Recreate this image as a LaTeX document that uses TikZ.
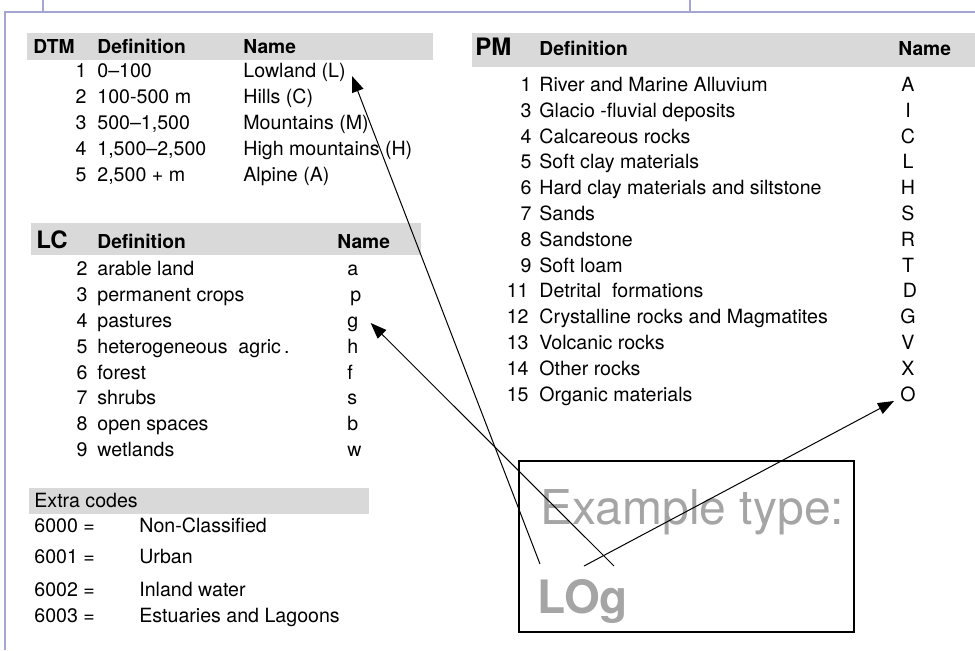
\documentclass[tikz,border=0pt]{standalone}
\usepackage{fontspec}
\setmainfont{TeX Gyre Heros}
\usetikzlibrary{arrows.meta}
\definecolor{framelav}{RGB}{165,165,210}
\definecolor{bargray}{RGB}{217,217,217}
\definecolor{typegray}{RGB}{165,165,165}
\begin{document}
\begin{tikzpicture}[x=0.5pt, y=-0.5pt,
    txt/.style={anchor=base west, inner sep=0pt, font=\fontsize{9.8}{11}\selectfont},
    num/.style={txt, anchor=base east},
    code/.style={txt, anchor=base},
    head/.style={txt, font=\fontsize{9.6}{11}\selectfont\bfseries},
    tag/.style={txt, font=\fontsize{12}{14}\selectfont\bfseries},
    bar/.style={fill=bargray, draw=none},
    tip/.style={-{Triangle[length=8pt,width=6pt]}, line width=0.5pt}]

    \useasboundingbox (0,0) rectangle (975,650);

    \draw[framelav, line width=0.6pt] (5,650) -- (5,12) -- (975,12);
    \draw[framelav, line width=0.6pt] (43,0) -- (43,12);
    \draw[framelav, line width=0.6pt] (690,0) -- (690,12);

    \fill[bar] (27,33) rectangle (433,60);
    \fill[bar] (31,223) rectangle (421,255);
    \fill[bar] (29,488) rectangle (369,514);
    \fill[bar] (472,33) rectangle (975,67);

    \node[head] at (33,53) (dtm) {DTM};
    \node[head] at (97,53) (dtmdef) {Definition};
    \node[head] at (243,53) (dtmname) {Name};
    \node[num] at (87,77) (d1) {1};   \node[txt] at (97,77) (d1def) {0–100};        \node[txt] at (243,77) (lowL) {Lowland (L)};
    \node[num] at (87,103) (d2) {2};  \node[txt] at (97,103) (d2def) {100-500 m};   \node[txt] at (243,103) (hillC) {Hills (C)};
    \node[num] at (87,129) (d3) {3};  \node[txt] at (97,129) (d3def) {500–1,500};   \node[txt] at (243,129) (mountM) {Mountains (M)};
    \node[num] at (87,155) (d4) {4};  \node[txt] at (97,155) (d4def) {1,500–2,500}; \node[txt] at (243,155) (highH) {High mountains (H)};
    \node[num] at (87,181) (d5) {5};  \node[txt] at (97,181) (d5def) {2,500 + m};   \node[txt] at (243,181) (alpA) {Alpine (A)};

    \node[tag] at (36,248) (lc) {LC};
    \node[head] at (97,248) (lcdef) {Definition};
    \node[head] at (337,248) (lcname) {Name};
    \node[num] at (88,275) (c2) {2}; \node[txt] at (97,275) (c2def) {arable land};                 \node[txt] at (347,275) (lca) {a};
    \node[num] at (88,301) (c3) {3}; \node[txt] at (97,301) (c3def) {permanent crops};             \node[txt] at (350,301) (lcp) {p};
    \node[num] at (88,327) (c4) {4}; \node[txt] at (97,327) (c4def) {pastures};                    \node[txt] at (347,327) (lcg) {g};
    \node[num] at (88,353) (c5) {5}; \node[txt] at (97,353) (c5def) {heterogeneous\ \ agric\,.};  \node[txt] at (347,353) (lch) {h};
    \node[num] at (88,379) (c6) {6}; \node[txt] at (97,379) (c6def) {forest};                      \node[txt] at (347,379) (lcf) {f};
    \node[num] at (88,404) (c7) {7}; \node[txt] at (97,404) (c7def) {shrubs};                      \node[txt] at (347,404) (lcs) {s};
    \node[num] at (88,430) (c8) {8}; \node[txt] at (97,430) (c8def) {open spaces};                 \node[txt] at (347,430) (lcb) {b};
    \node[num] at (88,456) (c9) {9}; \node[txt] at (97,456) (c9def) {wetlands};                    \node[txt] at (347,456) (lcw) {w};

    \node[txt] at (34,507) (extra) {Extra codes};
    \node[txt] at (34,532) (x0) {6000 =}; \node[txt] at (139,532) (x0def) {Non-Classified};
    \node[txt] at (34,563) (x1) {6001 =}; \node[txt] at (139,563) (x1def) {Urban};
    \node[txt] at (34,596) (x2) {6002 =}; \node[txt] at (139,596) (x2def) {Inland water};
    \node[txt] at (34,622) (x3) {6003 =}; \node[txt] at (139,622) (x3def) {Estuaries and Lagoons};

    \node[tag] at (475,55) (pm) {PM};
    \node[head] at (539,55) (pmdef) {Definition};
    \node[head] at (898,55) (pmname) {Name};
    \node[num] at (532,91) (p1) {1};    \node[txt] at (539,91) (p1def) {River and Marine Alluvium};            \node[code] at (908,91) (pmA) {A};
    \node[num] at (532,117) (p3) {3};   \node[txt] at (539,117) (p3def) {Glacio -fluvial deposits};            \node[code] at (908,117) (pmI) {I};
    \node[num] at (532,143) (p4) {4};   \node[txt] at (539,143) (p4def) {Calcareous rocks};                    \node[code] at (908,143) (pmC) {C};
    \node[num] at (532,168) (p5) {5};   \node[txt] at (539,168) (p5def) {Soft clay materials};                 \node[code] at (908,168) (pmL) {L};
    \node[num] at (532,194) (p6) {6};   \node[txt] at (539,194) (p6def) {Hard clay materials and siltstone};   \node[code] at (908,194) (pmH) {H};
    \node[num] at (532,220) (p7) {7};   \node[txt] at (539,220) (p7def) {Sands};                               \node[code] at (908,220) (pmS) {S};
    \node[num] at (532,246) (p8) {8};   \node[txt] at (539,246) (p8def) {Sandstone};                           \node[code] at (908,246) (pmR) {R};
    \node[num] at (532,272) (p9) {9};   \node[txt] at (539,272) (p9def) {Soft loam};                           \node[code] at (908,272) (pmT) {T};
    \node[num] at (529,297) (p11) {11}; \node[txt] at (539,297) (p11def) {Detrital\ \ formations};            \node[code] at (910,297) (pmD) {D};
    \node[num] at (529,323) (p12) {12}; \node[txt] at (539,323) (p12def) {Crystalline rocks and Magmatites};   \node[code] at (908,323) (pmG) {G};
    \node[num] at (529,349) (p13) {13}; \node[txt] at (539,349) (p13def) {Volcanic rocks};                     \node[code] at (908,349) (pmV) {V};
    \node[num] at (529,375) (p14) {14}; \node[txt] at (539,375) (p14def) {Other rocks};                        \node[code] at (908,375) (pmX) {X};
    \node[num] at (529,401) (p15) {15}; \node[txt] at (539,401) (p15def) {Organic materials};                  \node[code] at (908,401) (pmO) {O};

    \draw[line width=0.6pt] (519,461) rectangle (854,632);
    \node[txt, text=typegray, font=\fontsize{24}{28}\selectfont] at (540,524) (extype) {Example type:};
    \node[txt, text=typegray, font=\fontsize{23}{28}\selectfont\bfseries] at (537,613) (logcode) {LOg};

    \coordinate (fromL) at (540,564);
    \coordinate (fromO) at (584,566);
    \coordinate (fromg) at (614,566);

    \path[tip] (fromL) edge ([xshift=3pt, yshift=0.5pt]lowL.base east);
    \path[tip] (fromg) edge ([xshift=6pt, yshift=2pt]lcg.base east);
    \path[tip] (fromO) edge ([xshift=-3pt]pmO.base west);
\end{tikzpicture}
\end{document}
